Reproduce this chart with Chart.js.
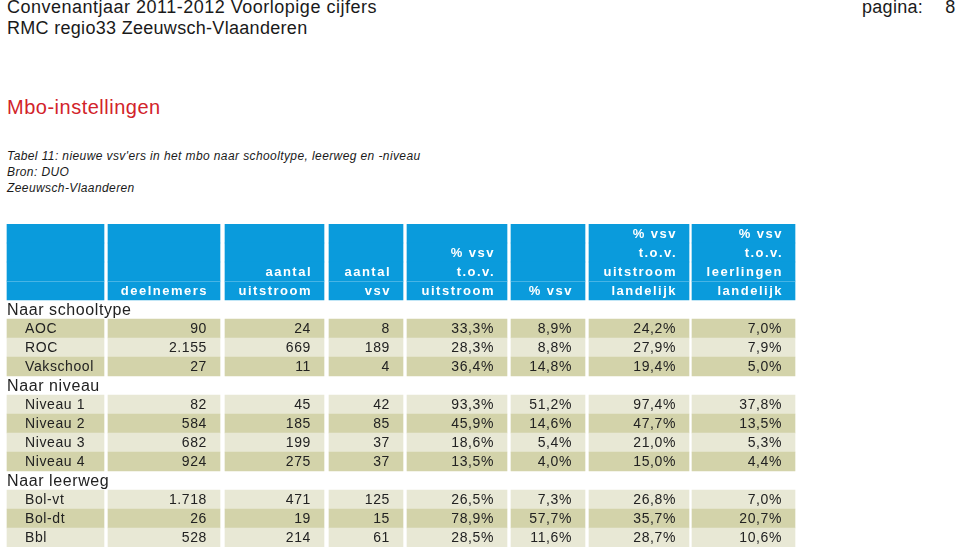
<!DOCTYPE html>
<html>
<head>
<meta charset="utf-8">
<script src="https://cdn.jsdelivr.net/npm/chart.js@4/dist/chart.umd.min.js"></script>
<style>
  html, body { margin: 0; padding: 0; background: #fff; }
  body { width: 960px; height: 550px; position: relative; overflow: hidden; font-family: "Liberation Sans", Arial, sans-serif; color: #1a1a1a; }
  .t { position: absolute; white-space: nowrap; }
  #kop1 { left: 7px; top: -3px; font-size: 18px; letter-spacing: 0.5px; }
  #kop2 { left: 7px; top: 18px; font-size: 18px; letter-spacing: 0.3px; }
  #pagina { left: 862px; top: -3px; font-size: 18px; letter-spacing: 0.3px; }
  #pagina span { margin-left: 22px; }
  #sectie { left: 7px; top: 96px; font-size: 20px; color: #d2232a; letter-spacing: 0.5px; }
  .bron { left: 7px; font-size: 12px; font-style: italic; letter-spacing: 0.4px; }
  #c { position: absolute; left: 0; top: 0; }
</style>
</head>
<body>
<div class="t" id="kop1">Convenantjaar 2011-2012 Voorlopige cijfers</div>
<div class="t" id="kop2">RMC regio33 Zeeuwsch-Vlaanderen</div>
<div class="t" id="pagina">pagina:<span>8</span></div>
<div class="t" id="sectie">Mbo-instellingen</div>
<div class="t bron" style="top:149px">Tabel 11: nieuwe vsv'ers in het mbo naar schooltype, leerweg en -niveau</div>
<div class="t bron" style="top:165px">Bron: DUO</div>
<div class="t bron" style="top:181px">Zeeuwsch-Vlaanderen</div>
<canvas id="c" width="960" height="550"></canvas>
<script>
// gegevens van de tabel
const groups = ['Naar schooltype', 'Naar niveau', 'Naar leerweg'];
const categories = ['AOC', 'ROC', 'Vakschool', 'Niveau 1', 'Niveau 2', 'Niveau 3', 'Niveau 4', 'Bol-vt', 'Bol-dt', 'Bbl'];
const categoryGroup = [0, 0, 0, 1, 1, 1, 1, 2, 2, 2];
const deelnemers = [90, 2155, 27, 82, 584, 682, 924, 1718, 26, 528];
const aantalUitstroom = [24, 669, 11, 45, 185, 199, 275, 471, 19, 214];
const aantalVsv = [8, 189, 4, 42, 85, 37, 37, 125, 15, 61];
const pctVsvUitstroom = [33.3, 28.3, 36.4, 93.3, 45.9, 18.6, 13.5, 26.5, 78.9, 28.5];
const pctVsv = [8.9, 8.8, 14.8, 51.2, 14.6, 5.4, 4.0, 7.3, 57.7, 11.6];
const pctUitstroomLandelijk = [24.2, 27.9, 19.4, 97.4, 47.7, 21.0, 15.0, 26.8, 35.7, 28.7];
const pctLeerlingenLandelijk = [7.0, 7.9, 5.0, 37.8, 13.5, 5.3, 4.4, 7.0, 20.7, 10.6];

// kolomkoppen, 4 regels per kolom (leeg = geen tekst)
const headers = [
  ['', '', '', ''],
  ['', '', '', 'deelnemers'],
  ['', '', 'aantal', 'uitstroom'],
  ['', '', 'aantal', 'vsv'],
  ['', '% vsv', 't.o.v.', 'uitstroom'],
  ['', '', '', '% vsv'],
  ['% vsv', 't.o.v.', 'uitstroom', 'landelijk'],
  ['% vsv', 't.o.v.', 'leerlingen', 'landelijk']
];

// opmaak
const COL_EDGES = [[7, 104], [108, 220], [225, 324], [329, 403], [407, 507], [511, 585], [589, 689], [692, 795]];
const BLUE = '#0a9bdc';
const DARK = '#d3d3aa';
const LIGHT = '#e8e8d5';
const TEXT = '#222222';

const fmtInt = (n) => String(n).replace(/\B(?=(\d{3})+(?!\d))/g, '.');
const fmtPct = (n) => n.toFixed(1).replace('.', ',') + '%';

const columns = [
  null,
  deelnemers.map(fmtInt),
  aantalUitstroom.map(fmtInt),
  aantalVsv.map(fmtInt),
  pctVsvUitstroom.map(fmtPct),
  pctVsv.map(fmtPct),
  pctUitstroomLandelijk.map(fmtPct),
  pctLeerlingenLandelijk.map(fmtPct)
];

// rijen: 4 kopregels, dan per groep een groepsregel en de categorieen
const rows = [];
for (let i = 0; i < 4; i++) rows.push({ type: 'head', line: i, key: 'kop' + i });
groups.forEach((g, gi) => {
  rows.push({ type: 'group', text: g, key: g });
  categories.forEach((c, ci) => {
    if (categoryGroup[ci] === gi) rows.push({ type: 'data', idx: ci, key: c });
  });
});

const datasets = COL_EDGES.map((edge, c) => ({
  label: 'kolom ' + c,
  data: rows.map((r) => (r.type === 'group' ? null : edge)),
  backgroundColor: (ctx) => {
    const r = rows[ctx.dataIndex];
    if (!r) return LIGHT;
    if (r.type === 'head') return BLUE;
    return r.idx % 2 === 0 ? DARK : LIGHT;
  },
  borderWidth: 0,
  barPercentage: 1,
  categoryPercentage: 1,
  grouped: false
}));

const tableText = {
  id: 'tableText',
  afterDatasetsDraw(chart) {
    const ctx = chart.ctx;
    const xs = chart.scales.x;
    const ys = chart.scales.y;
    ctx.save();
    ctx.textBaseline = 'middle';
    rows.forEach((r, i) => {
      const y = ys.getPixelForValue(i);
      if (r.type === 'head') {
        ctx.font = 'bold 13px "Liberation Sans", Arial, sans-serif';
        ctx.letterSpacing = '1.5px';
        ctx.fillStyle = '#ffffff';
        ctx.textAlign = 'right';
        headers.forEach((h, c) => {
          if (!h[r.line]) return;
          ctx.fillText(h[r.line], xs.getPixelForValue(COL_EDGES[c][1]) - 12, y + 1);
        });
      } else if (r.type === 'group') {
        ctx.font = '16px "Liberation Sans", Arial, sans-serif';
        ctx.letterSpacing = '0.6px';
        ctx.fillStyle = TEXT;
        ctx.textAlign = 'left';
        ctx.fillText(r.text, xs.getPixelForValue(COL_EDGES[0][0]), y + 1);
      } else {
        ctx.font = '14px "Liberation Sans", Arial, sans-serif';
        ctx.letterSpacing = '0.6px';
        ctx.fillStyle = TEXT;
        ctx.textAlign = 'left';
        ctx.fillText(categories[r.idx], xs.getPixelForValue(COL_EDGES[0][0]) + 18, y + 1);
        ctx.textAlign = 'right';
        for (let c = 1; c < columns.length; c++) {
          ctx.fillText(columns[c][r.idx], xs.getPixelForValue(COL_EDGES[c][1]) - 13, y + 1);
        }
      }
    });
    // lichte scheidingslijn in de kop
    const lineY = Math.round((ys.getPixelForValue(2) + ys.getPixelForValue(3)) / 2) + 0.5;
    ctx.strokeStyle = 'rgba(255,255,255,0.25)';
    ctx.lineWidth = 1;
    COL_EDGES.forEach((e) => {
      ctx.beginPath();
      ctx.moveTo(xs.getPixelForValue(e[0]), lineY);
      ctx.lineTo(xs.getPixelForValue(e[1]), lineY);
      ctx.stroke();
    });
    ctx.restore();
  }
};

new Chart(document.getElementById('c'), {
  type: 'bar',
  data: { labels: rows.map((r) => r.key), datasets: datasets },
  options: {
    indexAxis: 'y',
    responsive: false,
    animation: false,
    layout: { padding: { top: 224, bottom: 3, left: 0, right: 0 } },
    scales: {
      x: { type: 'linear', min: 0, max: 960, display: false },
      y: { display: false, offset: true }
    },
    plugins: {
      legend: { display: false },
      tooltip: { enabled: false }
    }
  },
  plugins: [tableText]
});
</script>
</body>
</html>
